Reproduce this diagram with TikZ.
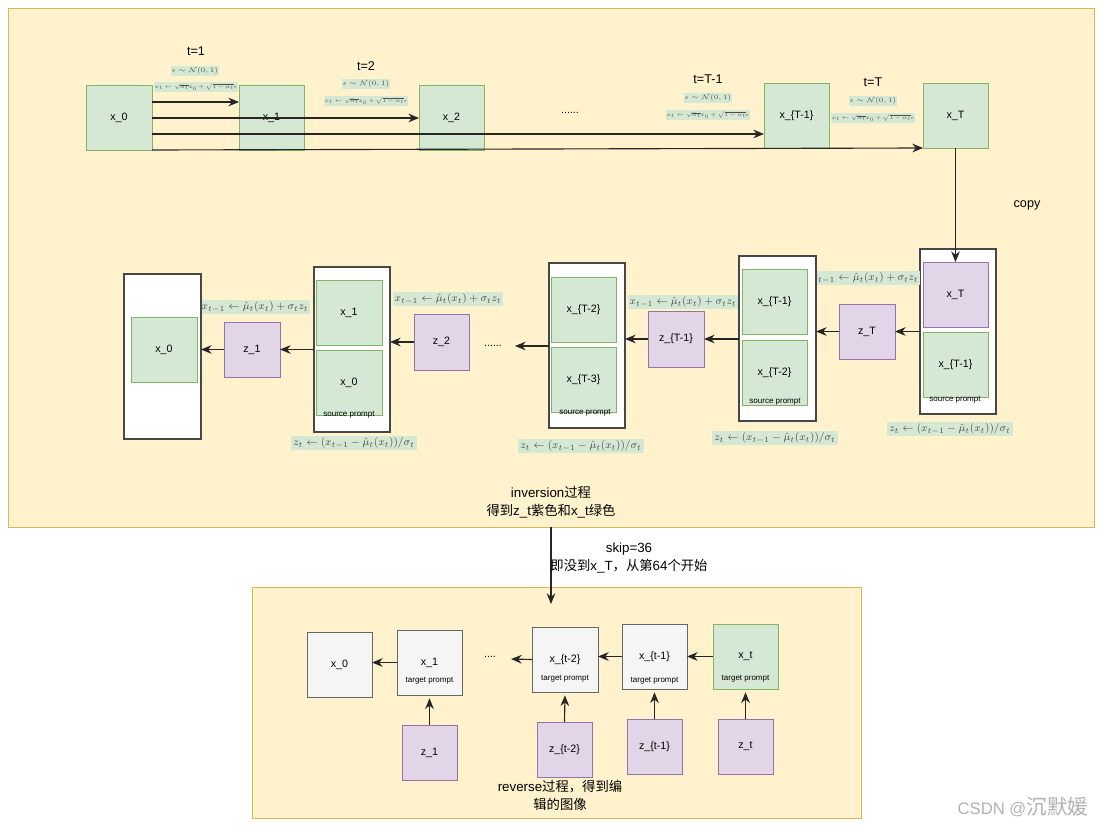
\documentclass[tikz,border=0pt]{standalone}
\usepackage{exscale}
\usepackage{amsmath}
\usepackage{graphicx}
\usepackage{fontspec}
\setmainfont{Liberation Sans}
\newfontfamily\cjk{Noto Sans CJK SC}
\usetikzlibrary{arrows.meta,calc}
\definecolor{frF}{HTML}{FFF2CC}
\definecolor{frB}{HTML}{D6B656}
\definecolor{gF}{HTML}{D5E8D4}
\definecolor{gB}{HTML}{82B366}
\definecolor{pF}{HTML}{E1D5E7}
\definecolor{pB}{HTML}{9673A6}
\definecolor{sF}{HTML}{F5F5F5}
\definecolor{sB}{HTML}{666666}
\newcommand{\zh}[1]{{\cjk #1}}
\newcommand{\qform}{\scalebox{0.8}{$x_t\leftarrow\sqrt{\bar\alpha_t}x_0+\sqrt{1-\bar\alpha_t}\epsilon$}}
\begin{document}
\begin{tikzpicture}[x=0.75pt,y=-0.75pt,
  sz/.style 2 args={minimum width=#1*0.75pt, minimum height=#2*0.75pt, inner sep=0pt, outer sep=0pt},
  outerframe/.style={draw=frB, fill=frF, line width=0.75pt},
  gbox/.style={draw=gB, fill=gF, line width=0.75pt, font=\fontsize{8}{9}\selectfont},
  pbox/.style={draw=pB, fill=pF, line width=0.75pt, font=\fontsize{8}{9}\selectfont},
  sbox/.style={draw=sB, fill=sF, line width=0.75pt, font=\fontsize{8}{9}\selectfont},
  cont/.style={draw=black!72, fill=white, line width=0.8pt},
  arr/.style={draw=black!85, line width=0.85pt, -{Stealth[length=8pt,width=6.5pt]}},
  tlab/.style={font=\fontsize{9.5}{11}\selectfont, inner sep=0pt},
  fsm/.style={fill=gF, inner sep=1pt, text=black!70, font=\fontsize{5.5}{6}\selectfont},
  fml/.style={fill=gF, inner sep=1.5pt, text=black!70, font=\fontsize{8}{9}\selectfont},
  prompt/.style={font=\fontsize{6}{7}\selectfont, inner sep=0pt},
  bigtxt/.style={font=\fontsize{10}{13.5}\selectfont, align=center, inner sep=0pt},
  dots/.style={font=\fontsize{8}{9}\selectfont, inner sep=0pt}
]
\useasboundingbox (0,0) rectangle (1103,828);
\fill[white] (0,0) rectangle (1103,828);

% frames
\node[outerframe, sz={1086}{519}] (topF) at (551,267.5) {};
\node[outerframe, sz={609}{231}] (botF) at (556.5,702.5) {};

% ---------- top row ----------
\node[gbox, sz={66}{65}] (x0t) at (119,117.5) {x\_0};
\node[gbox, sz={65}{65}] (x1t) at (271.5,117.5) {x\_1};
\node[gbox, sz={65}{65}] (x2t) at (451.5,117.5) {x\_2};
\node[gbox, sz={65}{65}] (xTm1t) at (796.5,115.5) {x\_\{T-1\}};
\node[gbox, sz={65}{65}] (xTt) at (955.5,115.5) {x\_T};
\node[dots] (dtop) at (570,113) {......};

\node[tlab] (t1) at (196,51) {t=1};
\node[fsm] (e1) at (195,71) {$\epsilon\sim\mathcal{N}(0,1)$};
\node[fsm] (q1) at (196,87) {\qform};
\node[tlab] (t2) at (366,66) {t=2};
\node[fsm] (e2) at (366,84) {$\epsilon\sim\mathcal{N}(0,1)$};
\node[fsm] (q2) at (366,101) {\qform};
\node[tlab] (t3) at (708,79) {t=T-1};
\node[fsm] (e3) at (708,98) {$\epsilon\sim\mathcal{N}(0,1)$};
\node[fsm] (q3) at (708,115) {\qform};
\node[tlab] (t4) at (873,82) {t=T};
\node[fsm] (e4) at (873,101) {$\epsilon\sim\mathcal{N}(0,1)$};
\node[fsm] (q4) at (873,118) {\qform};

\draw[arr] (x0t.east |- 0,102) -- (x1t.west |- 0,102);
\draw[arr] (x0t.east |- 0,118) -- (x2t.west |- 0,118);
\draw[arr] (x0t.east |- 0,134) -- (xTm1t.west |- 0,134);
\draw[arr] (x0t.south east) -- (xTt.south west);

\node[tlab] (copy) at (1027,205) {copy};

% ---------- middle row ----------
\node[cont, sz={76}{165}] (C1) at (958,331.5) {};
\node[pbox, sz={65}{65}] (xTp) at (955.5,294.5) {x\_T};
\node[gbox, sz={65}{65}] (xTm1g) at (955.5,364.5) {x\_\{T-1\}};
\node[prompt] (sp1) at (955,400) {source prompt};
\node[fml] (f1b) at (950,429) {$z_t\leftarrow(x_{t-1}-\hat\mu_t(x_t))/\sigma_t$};

\node[pbox, sz={56}{55}] (zT) at (867,331.5) {z\_T};
\node[fml] (f1a) at (865,278) {$x_{t-1}\leftarrow\hat\mu_t(x_t)+\sigma_t z_t$};

\node[cont, sz={77}{165}] (C2) at (777.5,338.5) {};
\node[gbox, sz={65}{65}] (xTm1m) at (774.5,301.5) {x\_\{T-1\}};
\node[gbox, sz={65}{65}] (xTm2m) at (774.5,372.5) {x\_\{T-2\}};
\node[prompt] (sp2) at (775,402) {source prompt};
\node[fml] (f2b) at (775,438) {$z_t\leftarrow(x_{t-1}-\hat\mu_t(x_t))/\sigma_t$};

\node[pbox, sz={56}{56}] (zTm1) at (676,339) {z\_\{T-1\}};
\node[fml] (f2a) at (683,302) {$x_{t-1}\leftarrow\hat\mu_t(x_t)+\sigma_t z_t$};

\node[cont, sz={76}{165}] (C3) at (587,345.5) {};
\node[gbox, sz={65}{65}] (xTm2n) at (583.5,309.5) {x\_\{T-2\}};
\node[gbox, sz={65}{65}] (xTm3n) at (583.5,379.5) {x\_\{T-3\}};
\node[prompt] (sp3) at (585,413) {source prompt};
\node[fml] (f3b) at (581,446) {$z_t\leftarrow(x_{t-1}-\hat\mu_t(x_t))/\sigma_t$};

\node[dots] (dmid) at (493,346) {......};
\coordinate (dmidE) at (515,346);

\node[pbox, sz={55}{56}] (z2) at (441.5,342) {z\_2};
\node[fml] (f4a) at (448,299) {$x_{t-1}\leftarrow\hat\mu_t(x_t)+\sigma_t z_t$};

\node[cont, sz={76}{165}] (C4) at (352,349.5) {};
\node[gbox, sz={66}{65}] (x1m) at (349,312.5) {x\_1};
\node[gbox, sz={66}{65}] (x0m) at (349,382.5) {x\_0};
\node[prompt] (sp4) at (349,415) {source prompt};
\node[fml] (f4b) at (354,443) {$z_t\leftarrow(x_{t-1}-\hat\mu_t(x_t))/\sigma_t$};

\node[pbox, sz={56}{55}] (z1) at (252,349.5) {z\_1};
\node[fml] (f5a) at (255,307) {$x_{t-1}\leftarrow\hat\mu_t(x_t)+\sigma_t z_t$};

\node[cont, sz={77}{165}] (C5) at (162.5,356.5) {};
\node[gbox, sz={66}{65}] (x0f) at (164,349.5) {x\_0};

\draw[arr] (xTt.south) -- (xTp.north);
\draw[arr] (C1.west |- zT.east) -- (zT.east);
\draw[arr] (zT.west) -- (C2.east |- zT.west);
\draw[arr] (C2.west |- zTm1.east) -- (zTm1.east);
\draw[arr] (zTm1.west) -- (C3.east |- zTm1.west);
\draw[arr] (C3.west |- dmidE) -- (dmidE);
\draw[arr] (z2.west) -- (C4.east |- z2.west);
\draw[arr] (C4.west |- z1.east) -- (z1.east);
\draw[arr] (z1.west) -- (C5.east |- z1.west);

\node[bigtxt] (inv) at (551,502) {inversion\zh{过程}\\\zh{得到}z\_t\zh{紫色和}x\_t\zh{绿色}};

% ---------- link to bottom ----------
\coordinate (skipEnd) at (551,604);
\draw[arr] (topF.south) -- (skipEnd);
\node[bigtxt] (skip) at (629,558) {skip=36\\\zh{即没到}x\_T\zh{，从第}64\zh{个开始}};

% ---------- bottom row ----------
\node[sbox, sz={65}{65}] (xb0) at (339.5,664.5) {x\_0};
\node[sbox, sz={65}{65}] (xb1) at (429.5,662.5) {x\_1};
\node[sbox, sz={66}{65}] (xbt2) at (565,659.5) {x\_\{t-2\}};
\node[sbox, sz={65}{65}] (xbt1) at (654.5,656.5) {x\_\{t-1\}};
\node[gbox, sz={65}{65}] (xbt) at (745.5,656.5) {x\_t};
\node[prompt] (tp1) at (429.5,681) {target prompt};
\node[prompt] (tp2) at (565,679) {target prompt};
\node[prompt] (tp3) at (654.5,681) {target prompt};
\node[prompt] (tp4) at (745.5,679) {target prompt};
\node[dots] (dbot) at (490,657) {....};
\coordinate (dbotE) at (511,659);

\node[pbox, sz={55}{55}] (zb1) at (429.5,752.5) {z\_1};
\node[pbox, sz={55}{55}] (zbt2) at (564.5,749.5) {z\_\{t-2\}};
\node[pbox, sz={55}{55}] (zbt1) at (654.5,746.5) {z\_\{t-1\}};
\node[pbox, sz={55}{55}] (zbt) at (745.5,746.5) {z\_t};

\draw[arr] (zb1.north) -- ([yshift=-2.5pt]xb1.south);
\draw[arr] (zbt2.north) -- ([yshift=-2.5pt]xbt2.south);
\draw[arr] (zbt1.north) -- ([yshift=-2.5pt]xbt1.south);
\draw[arr] (zbt.north) -- ([yshift=-2.5pt]xbt.south);
\draw[arr] (xbt.west) -- (xbt1.east);
\draw[arr] (xbt1.west) -- (xbt2.east |- xbt1.west);
\draw[arr] (xbt2.west) -- (dbotE);
\draw[arr] (xb1.west) -- (xb0.east |- xb1.west);

\node[bigtxt] (rev) at (560,795) {reverse\zh{过程，得到编}\\\zh{辑的图像}};

\node[font=\fontsize{12.5}{14}\selectfont, text=black!30, inner sep=0pt] (wm) at (1023,807) {CSDN @{\cjk\fontsize{15.5}{17}\selectfont 沉默媛}};
\end{tikzpicture}
\end{document}
